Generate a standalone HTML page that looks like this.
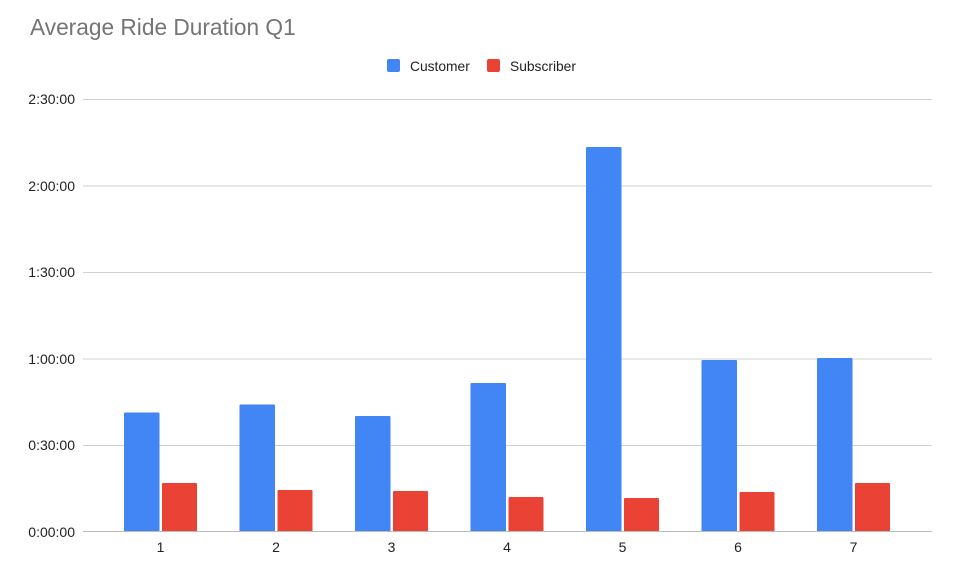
<!DOCTYPE html>
<html><head><style>
body{margin:0;background:#fff;}
svg text{font-family:"Liberation Sans",Arial,sans-serif;}
</style></head><body>
<svg width="956" height="581" xmlns="http://www.w3.org/2000/svg">
<rect width="956" height="581" fill="#fff"/>
<text x="30" y="35" font-size="22.7" fill="#757575">Average Ride Duration Q1</text>
<rect x="387" y="59" width="13" height="13" rx="2" fill="#4285f4"/>
<text x="410" y="71" font-size="13.8" fill="#222">Customer</text>
<rect x="487" y="59" width="13" height="13" rx="2" fill="#ea4335"/>
<text x="510" y="71" font-size="13.8" fill="#222">Subscriber</text>
<g stroke="#d0d0d0" stroke-width="1">
<line x1="83" x2="932" y1="99.5" y2="99.5"/>
<line x1="83" x2="932" y1="186" y2="186"/>
<line x1="83" x2="932" y1="272.5" y2="272.5"/>
<line x1="83" x2="932" y1="359" y2="359"/>
<line x1="83" x2="932" y1="445.5" y2="445.5"/>
</g>
<g font-size="14" fill="#222" text-anchor="end">
<text x="75" y="104">2:30:00</text>
<text x="75" y="191">2:00:00</text>
<text x="75" y="277">1:30:00</text>
<text x="75" y="364">1:00:00</text>
<text x="75" y="450">0:30:00</text>
<text x="75" y="537">0:00:00</text>
</g>
<g fill="#4285f4">
<rect x="124" y="412.5" width="35.5" height="119.5" rx="1"/>
<rect x="239.5" y="404.5" width="35.5" height="127.5" rx="1"/>
<rect x="355" y="416" width="35.5" height="116" rx="1"/>
<rect x="470.5" y="383" width="35.5" height="149" rx="1"/>
<rect x="586" y="147" width="35.5" height="385" rx="1"/>
<rect x="701.5" y="360" width="35.5" height="172" rx="1"/>
<rect x="817" y="358" width="35.5" height="174" rx="1"/>
</g>
<g fill="#ea4335">
<rect x="162" y="483" width="35" height="49" rx="1"/>
<rect x="277.5" y="490" width="35" height="42" rx="1"/>
<rect x="393" y="491" width="35" height="41" rx="1"/>
<rect x="508.5" y="497" width="35" height="35" rx="1"/>
<rect x="624" y="498" width="35" height="34" rx="1"/>
<rect x="739.5" y="492" width="35" height="40" rx="1"/>
<rect x="855" y="483" width="35" height="49" rx="1"/>
</g>
<line x1="83" x2="932" y1="531.5" y2="531.5" stroke="#bbb" stroke-width="1"/>
<g font-size="14" fill="#222" text-anchor="middle">
<text x="160.5" y="552">1</text>
<text x="276" y="552">2</text>
<text x="391.5" y="552">3</text>
<text x="507" y="552">4</text>
<text x="622.5" y="552">5</text>
<text x="738" y="552">6</text>
<text x="853.5" y="552">7</text>
</g>
</svg>
</body></html>
